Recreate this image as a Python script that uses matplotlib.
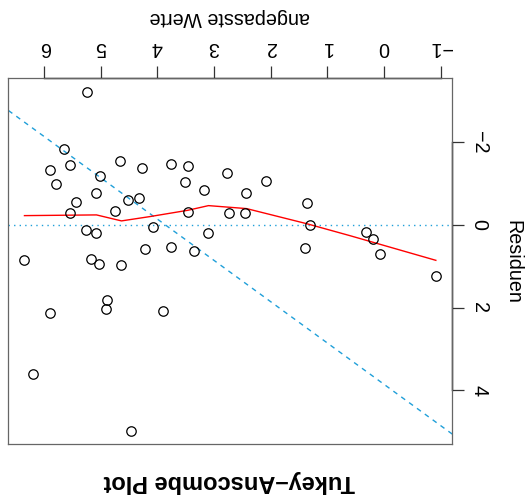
import numpy as np
import matplotlib
matplotlib.use("Agg")
import matplotlib.pyplot as plt
import matplotlib.transforms as mtransforms

plt.rcParams["font.family"] = ["Liberation Sans", "DejaVu Sans"]

# angepasste Werte und Residuen des Modells
angepasst = [5.234, 5.647, 5.887, 5.547, 5.788, 4.664, 4.271, 3.759, 3.459, 5.017,
             3.517, 5.082, 5.428, 4.518, 4.317, 4.747, 5.547, 3.464, 4.082, 5.264,
             5.075, 6.346, 4.211, 3.759, 3.353, 5.171, 5.029, 4.634, 3.187, 2.764,
             2.076, 2.441, 1.359, 2.736, 2.458, 1.311, 3.099, 1.405, 0.318, 0.194,
             0.071, -0.912, 4.881, 4.911, 5.887, 3.905, 6.187, 4.458]
residuen = [-3.22, -1.847, -1.339, -1.453, -1.0, -1.557, -1.37, -1.484, -1.429, -1.177,
            -1.041, -0.775, -0.547, -0.596, -0.644, -0.346, -0.281, -0.322, 0.041, 0.121,
            0.186, 0.84, 0.574, 0.542, 0.622, 0.816, 0.954, 0.978, -0.855, -1.266,
            -1.065, -0.765, -0.523, -0.281, -0.291, 0.01, 0.186, 0.567, 0.169, 0.339,
            0.702, 1.235, 1.809, 2.027, 2.131, 2.075, 3.617, 4.981]

# Glaetter (lowess) durch die Residuen
glatt_x = [6.346, 5.075, 4.634, 4.135, 3.464, 3.099, 2.428, 1.370, 0.606, -0.912]
glatt_y = [-0.225, -0.242, -0.097, -0.201, -0.354, -0.467, -0.395, -0.031, 0.259, 0.857]

# Referenzgerade mit Steigung -1
achsenabschnitt = 3.86
steigung = -1.0

x_ticks = [-1, 0, 1, 2, 3, 4, 5, 6]
y_ticks = [-2, 0, 2, 4]

blau = "#1f9fd9"

fig = plt.figure(figsize=(5.27, 5.0), dpi=100)
ax = fig.add_axes([8 / 527, 1 - 444.3 / 500, 444.3 / 527, 366 / 500])

ax.axhline(0, color=blau, ls=(0, (1, 3)), lw=1.0)
ax.axline((0, achsenabschnitt), slope=steigung, color=blau, ls=(0, (3.5, 3.5)), lw=1.0)
ax.plot(glatt_x, glatt_y, color="red", lw=1.0)
ax.plot(angepasst, residuen, ls="none", marker="o", ms=6.8,
        mfc="none", mec="black", mew=0.9)

# Achsenbereich wie in R: 4 % Rand
x = np.array(angepasst)
y = np.array(residuen)
rx = x.max() - x.min()
ry = y.max() - y.min()
ax.set_xlim(x.max() + 0.04 * rx, x.min() - 0.04 * rx)
ax.set_ylim(y.max() + 0.04 * ry, y.min() - 0.04 * ry)

ax.xaxis.tick_top()
ax.yaxis.tick_right()
ax.set_xticks(x_ticks)
ax.set_yticks(y_ticks)
ax.tick_params(axis="x", labelrotation=180, length=8.6, width=0.9, pad=6.7,
               labelsize=14.2, color="#333333")
ax.tick_params(axis="y", labelrotation=-90, length=8.6, width=0.9, pad=3.9,
               labelsize=14.2, color="#333333")
for lab in ax.get_yticklabels():
    lab.set_verticalalignment("center")

for s in ax.spines.values():
    s.set_color("#666666")
    s.set_linewidth(0.9)

# Achsenlinien nur zwischen erstem und letztem Tick
tx = mtransforms.blended_transform_factory(ax.transData, ax.transAxes)
ty = mtransforms.blended_transform_factory(ax.transAxes, ax.transData)
ax.plot([x_ticks[0], x_ticks[-1]], [1, 1], color="black", lw=1.0, transform=tx, clip_on=False)
ax.plot([1, 1], [y_ticks[0], y_ticks[-1]], color="black", lw=1.0, transform=ty, clip_on=False)

fig.text(230 / 527, 1 - 17 / 500, "angepasste Werte", rotation=180,
         ha="center", va="center", fontsize=14.2)
fig.text(513 / 527, 1 - 262 / 500, "Residuen", rotation=270,
         ha="center", va="center", fontsize=14.2)
fig.text(229.5 / 527, 1 - 481 / 500, "Tukey–Anscombe Plot", rotation=180,
         ha="center", va="center", fontsize=17, fontweight="bold")

fig.savefig("out.png", dpi=100)
